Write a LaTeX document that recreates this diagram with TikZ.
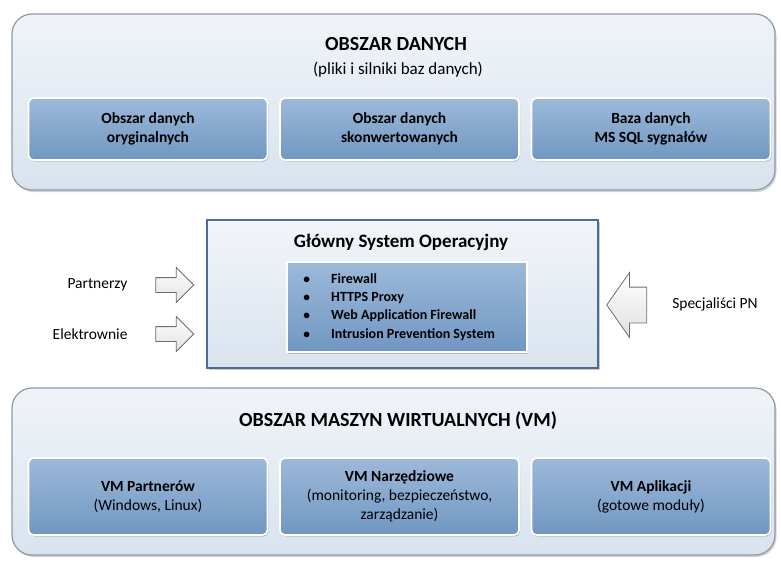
\documentclass[tikz,border=0pt]{standalone}
\usepackage{fontspec}
\setmainfont{Carlito}
\usetikzlibrary{positioning,shapes.arrows,shadows}
\definecolor{areafill}{HTML}{D9E3EE}
\definecolor{areaedge}{HTML}{8D99A8}
\definecolor{celltop}{HTML}{9DB9D9}
\definecolor{cellbot}{HTML}{7097C2}
\definecolor{osedge}{HTML}{4B6C98}
\definecolor{arrowedge}{HTML}{6E6E6E}
\tikzset{
  area/.style={draw=areaedge,line width=1.2pt,rounded corners=20pt,
    top color=areafill!40,bottom color=areafill,
    drop shadow={opacity=0.35,shadow xshift=1.5pt,shadow yshift=-2pt}},
  cell/.style={draw=white,line width=1.6pt,rounded corners=5pt,
    top color=celltop,bottom color=cellbot,minimum width=239pt,
    align=center,font=\fontsize{15.5}{19}\selectfont,
    drop shadow={opacity=0.4,shadow xshift=1pt,shadow yshift=-1.5pt}},
  head/.style={font=\bfseries\fontsize{20}{23}\selectfont},
  side/.style={font=\fontsize{15.5}{18}\selectfont},
  inarrow/.style={single arrow,draw=arrowedge,line width=0.8pt,
    top color=white,bottom color=black!12,inner xsep=0pt,inner ysep=7pt,
    minimum height=38pt,single arrow head extend=10pt}
}
\begin{document}
\begin{tikzpicture}[x=1pt,y=-1pt]
  \useasboundingbox (0,0) rectangle (781,562);
  \node[area,minimum width=763pt,minimum height=176pt] (dane) at (393.5,102) {};
  \node[head] (daneT) at (396,44) {OBSZAR DANYCH};
  \node[font=\fontsize{17}{20}\selectfont] (daneS) at (398,70) {(pliki i silniki baz danych)};
  \node[cell,minimum height=62pt,font=\bfseries\fontsize{15.5}{19}\selectfont] (orig) at (148,129)
    {Obszar danych\\oryginalnych};
  \node[cell,minimum height=62pt,font=\bfseries\fontsize{15.5}{19}\selectfont] (konw) at (399.5,129)
    {Obszar danych\\skonwertowanych};
  \node[cell,minimum height=62pt,font=\bfseries\fontsize{15.5}{19}\selectfont] (sql) at (651,129)
    {Baza danych\\MS SQL sygnałów};

  \node[draw=osedge,line width=1.4pt,top color=areafill!35,bottom color=areafill,
    minimum width=391pt,minimum height=148pt,
    drop shadow={opacity=0.4,shadow xshift=1.5pt,shadow yshift=-2pt}] (os) at (402.5,294) {};
  \node[font=\bfseries\fontsize{19}{22}\selectfont] (osT) at (401,242) {Główny System Operacyjny};
  \node[draw=white,line width=1.6pt,top color=celltop,bottom color=cellbot,
    minimum width=240pt,minimum height=90pt,inner sep=0pt,
    font=\bfseries\fontsize{14}{18.3}\selectfont,
    drop shadow={opacity=0.4,shadow xshift=1pt,shadow yshift=-1.5pt}] (fw) at (407,307)
    {\begin{tabular}{@{}l@{\hspace{21pt}}l@{\hspace{16pt}}}
      $\bullet$ & Firewall\\
      $\bullet$ & HTTPS Proxy\\
      $\bullet$ & Web Application Firewall\\
      $\bullet$ & Intrusion Prevention System
    \end{tabular}};

  \node[side,anchor=east] (part) at (131,285) {Partnerzy};
  \node[side,anchor=east] (elek) at (131,334) {Elektrownie};
  \node[inarrow] (partA) at (171,285) {};
  \node[inarrow] (elekA) at (171,334) {};
  \node[side] (spec) at (715,304) {Specjaliści PN};
  \node[inarrow,shape border rotate=180,minimum height=40pt,inner ysep=17.5pt,
    single arrow head extend=14.5pt,single arrow tip angle=110] (specA) at (633,305) {};

  \node[area,minimum width=763pt,minimum height=167pt] (vm) at (393.5,471.5) {};
  \node[head] (vmT) at (398,421) {OBSZAR MASZYN WIRTUALNYCH (VM)};
  \node[cell,minimum height=77pt] (vmP) at (148,496.5)
    {\textbf{VM Partnerów}\\(Windows, Linux)};
  \node[cell,minimum height=77pt] (vmN) at (399.5,496.5)
    {\textbf{VM Narzędziowe}\\(monitoring, bezpieczeństwo,\\zarządzanie)};
  \node[cell,minimum height=77pt] (vmA) at (651,496.5)
    {\textbf{VM Aplikacji}\\(gotowe moduły)};
\end{tikzpicture}
\end{document}
